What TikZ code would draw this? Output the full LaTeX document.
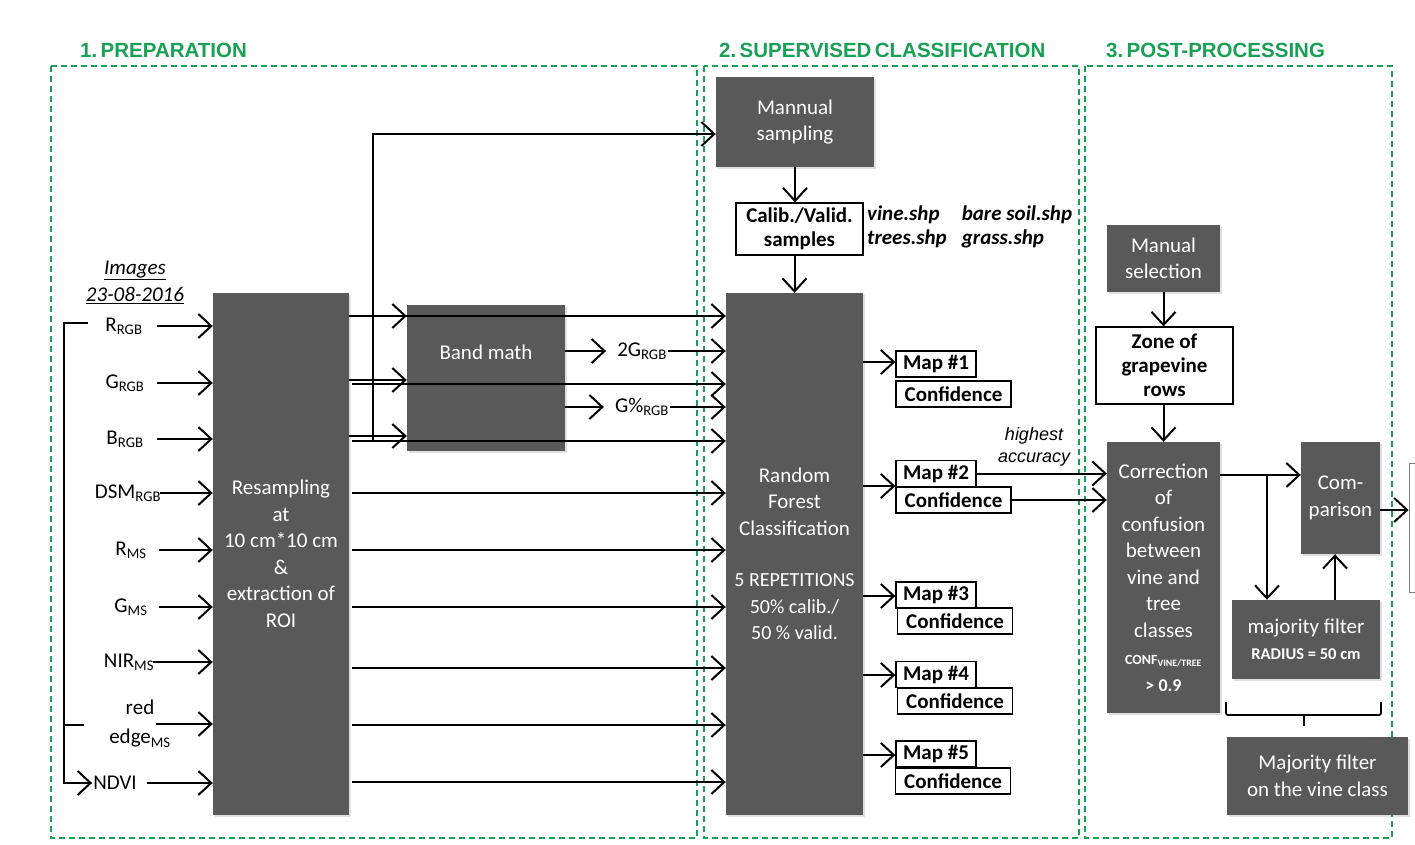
\documentclass[tikz,border=0pt]{standalone}
\usepackage{fontspec}
\setmainfont{Carlito}
\newfontfamily\headfont{Liberation Sans}
\usetikzlibrary{arrows.meta,shadows}
\definecolor{boxgrey}{RGB}{89,89,89}
\definecolor{framegreen}{RGB}{24,160,84}
\tikzset{
  greybox/.style={fill=boxgrey, text=white, align=center, inner sep=1pt,
    font=\fontsize{21}{26.5}\selectfont,
    drop shadow={shadow xshift=2pt, shadow yshift=-2pt, opacity=0.25}},
  whitebox/.style={draw, line width=1.3pt, fill=white, align=center, inner sep=1pt,
    font=\bfseries\fontsize{21}{24}\selectfont},
  inlabel/.style={align=center, inner sep=1pt, font=\fontsize{21}{29}\selectfont},
  arr/.style={line width=2pt, -{Straight Barb[length=13pt,width=24pt]}},
  plain/.style={line width=2pt},
  frame/.style={draw=framegreen, line width=1.5pt, dash pattern=on 6pt off 4pt},
  heading/.style={anchor=west, inner sep=0pt, text=framegreen, font=\headfont\bfseries\fontsize{20.5}{24}\selectfont},
}
\begin{document}
\begin{tikzpicture}[x=1pt, y=-1pt]
    \useasboundingbox (0,0) rectangle (1415,845);
    \fill[white] (0,0) rectangle (1415,845);
    \clip (0,0) rectangle (1415,845);

    \draw[frame] (51,66) rectangle (697,838);
    \draw[frame] (704,66) rectangle (1079,838);
    \draw[frame] (1085,66) rectangle (1392,838);
    \node[heading] (h1) at (80,50) {1.\,PREPARATION};
    \node[heading] (h2) at (719,50) {2.\,SUPERVISED\,CLASSIFICATION};
    \node[heading] (h3) at (1106,50) {3.\,POST-PROCESSING};

    \node[greybox, minimum width=136pt, minimum height=522pt] (resamp) at (281,554)
        {Resampling\\at\\10 cm*10 cm\\\&\\extraction of\\ROI};
    \node[greybox, minimum width=158pt, minimum height=146pt] (band) at (486,378) {};
    \node[inlabel, text=white] (bandtxt) at (486,352) {Band math};
    \node[greybox, minimum width=158pt, minimum height=90pt] (ms) at (795,122) {Mannual\\sampling};
    \node[whitebox, minimum width=127pt, minimum height=52pt] (calib) at (799.5,229) {Calib./Valid.\\samples};
    \node[anchor=west, inner sep=0pt, font=\bfseries\itshape\fontsize{21}{24}\selectfont] (shp) at (867,228)
        {\begin{tabular}{@{}l@{\hspace{15pt}}l@{}}vine.shp & bare soil.shp\\trees.shp & grass.shp\end{tabular}};
    \node[greybox, minimum width=137pt, minimum height=522pt] (rf) at (794.5,554)
        {Random\\Forest\\Classification\\[25pt]{\fontsize{20}{24.5}\selectfont 5 REPETITIONS}\\{\fontsize{20}{24.5}\selectfont 50\% calib./}\\{\fontsize{20}{24.5}\selectfont 50 \% valid.}};

    \node[greybox, minimum width=113pt, minimum height=67pt] (msel) at (1163.5,258.5) {Manual\\selection};
    \node[whitebox, minimum width=137pt, minimum height=77pt] (zone) at (1164.5,365.5) {Zone of\\grapevine\\rows};
    \node[greybox, minimum width=113pt, minimum height=271pt] (corr) at (1163.5,577.5)
        {Correction\\of\\confusion\\between\\vine and\\tree\\classes\\[1pt]{\bfseries\fontsize{14}{16}\selectfont CONF\textsubscript{VINE/TREE}}\\{\bfseries\fontsize{18}{21}\selectfont > 0.9}};
    \node[greybox, minimum width=79pt, minimum height=112pt] (comp) at (1340.5,498) {Com-\\parison};
    \node[greybox, minimum width=148pt, minimum height=79pt] (majf) at (1306,639.5)
        {majority filter\\{\bfseries\fontsize{16.5}{21}\selectfont RADIUS = 50 cm}};
    \node[greybox, minimum width=181pt, minimum height=78pt] (majv) at (1317.5,776) {Majority filter\\on the vine class};
    \node[draw=gray, line width=0.8pt, minimum width=52pt, minimum height=129pt] (outbox) at (1435,527.5) {};

    \node[inlabel, font=\itshape\fontsize{21}{27}\selectfont] (img) at (135,282) {\underline{Images}\\\underline{23-08-2016}};
    \foreach \n/\t/\x/\y/\s in {rrgb/R\textsubscript{RGB}/124/326/157, grgb/G\textsubscript{RGB}/125/383/157,
        brgb/B\textsubscript{RGB}/125/439/157, dsm/DSM\textsubscript{RGB}/128/493/160,
        rms/R\textsubscript{MS}/131/550/159, gms/G\textsubscript{MS}/131/607/159,
        nir/NIR\textsubscript{MS}/129/662/153, redge/red\\edge\textsubscript{MS}/140/724/156,
        ndvi/NDVI/115/783/147}
        {\node[inlabel] (\n) at (\x,\y) {\t};
         \draw[arr] (\n.east -| \s,0) -- (\n.east -| resamp.west);}

    \coordinate (ndvitop) at (88,323);
    \coordinate (rail) at (64,600);
    \coordinate (redgeend) at (84,725);
    \draw[arr] (ndvitop) -| (rail) |- (ndvi.west);
    \draw[plain] (redgeend) -- (redgeend -| rail);

    \draw[arr] (resamp.east |- 0,316) -- (band.west |- 0,316);
    \draw[arr] (resamp.east |- 0,316) -- (rf.west |- 0,316);
    \draw[arr] (resamp.east |- 0,380) -- (band.west |- 0,380);
    \draw[arr] (352,384) -- (rf.west |- 0,384);
    \draw[arr] (resamp.east |- 0,436) -- (band.west |- 0,436);
    \draw[arr] (352,441) -- (rf.west |- 0,441);
    \coordinate (tap) at (373,441);
    \draw[arr] (tap) |- ([yshift=-12pt]ms.west);
    \foreach \y in {493,550,607,668,725,782}
        \draw[arr] (352,\y) -- (rf.west |- 0,\y);

    \node[inlabel] (g2) at (642,351) {2G\textsubscript{RGB}};
    \node[inlabel] (gp) at (642,407) {G\%\textsubscript{RGB}};
    \draw[arr] (band.east |- g2) -- ([xshift=-10pt]g2.west);
    \draw[arr] (g2.east) -- (g2 -| rf.west);
    \draw[arr] (band.east |- gp) -- ([xshift=-10pt]gp.west);
    \draw[arr] (gp.east) -- (gp -| rf.west);

    \draw[arr] (ms.south) -- (calib.north -| ms.south);
    \draw[arr] (calib.south -| rf.north) -- (rf.north);

    \foreach \k/\ym/\yc/\xc/\ya in {1/364/394/953.5/362, 2/473.5/500/953.5/486, 3/595/621/955/596,
        4/674.5/701/955/675, 5/754/781/953/755}
        {\node[whitebox, minimum width=80pt, minimum height=26pt] (map\k) at (936,\ym) {Map \#\k};
         \node[whitebox, minimum width=115pt, minimum height=26pt] (conf\k) at (\xc,\yc) {Confidence};
         \draw[arr] (rf.east |- 0,\ya) -- (map\k.west |- 0,\ya);}

    \node[align=center, inner sep=0pt, font=\headfont\itshape\fontsize{18}{22}\selectfont] (hacc) at (1034,447) {highest\\accuracy};
    \draw[arr] (map2.east) -- (corr.west |- map2.east);
    \draw[arr] (conf2.east) -- (corr.west |- conf2.east);

    \draw[arr] (msel.south) -- (zone.north -| msel.south);
    \draw[arr] (zone.south -| corr.north) -- (corr.north);
    \coordinate (split) at (1267,475);
    \draw[arr] (corr.east |- split) -- (comp.west |- split);
    \draw[arr] (split) -- (split |- majf.north);
    \draw[arr] ([xshift=29pt]majf.north) -- ([xshift=29pt]majf.north |- comp.south);
    \draw[arr] ([yshift=-12pt]comp.east) -- (outbox.west |- 0,510);
    \draw[line width=1.8pt, rounded corners=2pt] (1226,702) -- (1226,715) -- (1381,715) -- (1381,702);
    \draw[line width=2pt] (1304,715) -- (1304,726);
\end{tikzpicture}
\end{document}
